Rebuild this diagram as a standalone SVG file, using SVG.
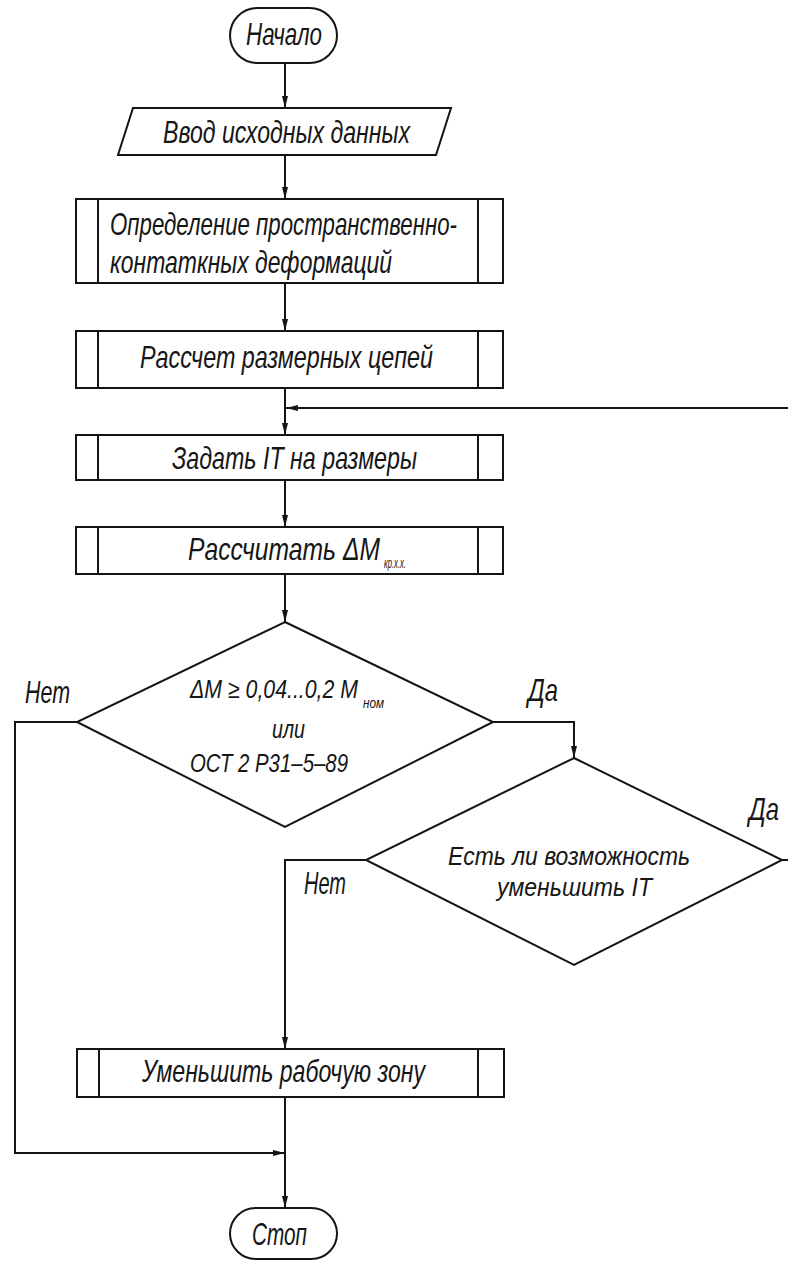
<svg xmlns="http://www.w3.org/2000/svg" width="788" height="1261" viewBox="0 0 788 1261">
<style>
.s{fill:#fff;stroke:#141414;stroke-width:2}
.l{fill:none;stroke:#141414;stroke-width:2}
.c{fill:none;stroke:#141414;stroke-width:2}
text{font-family:"Liberation Sans",Arial,sans-serif;font-style:italic;fill:#161616;font-weight:normal}
.b{font-size:32px}
.d{font-size:26px}
.sub{font-size:15px}
</style>
<defs>
<marker id="ah" viewBox="0 0 12 6" refX="12" refY="3" markerWidth="12" markerHeight="6" markerUnits="userSpaceOnUse" orient="auto">
<path d="M0,0 L12,3 L0,6 z" fill="#141414"/>
</marker>
</defs>
<rect width="788" height="1261" fill="#fff"/>
<g id="connectors">
<path class="c" d="M285,63 V108" marker-end="url(#ah)"/>
<path class="c" d="M285,155 V199" marker-end="url(#ah)"/>
<path class="c" d="M285,283 V331" marker-end="url(#ah)"/>
<path class="c" d="M285,388 V435" marker-end="url(#ah)"/>
<path class="c" d="M285,480 V527" marker-end="url(#ah)"/>
<path class="c" d="M285,574 V622" marker-end="url(#ah)"/>
<path class="c" d="M493,722 H574 V758" marker-end="url(#ah)"/>
<path class="c" d="M77,722 H15 V1153 H285" marker-end="url(#ah)"/>
<path class="c" d="M366,860 H285 V1049" marker-end="url(#ah)"/>
<path class="c" d="M782,860 H800 V408 H286" marker-end="url(#ah)"/>
<path class="c" d="M285,1097 V1208" marker-end="url(#ah)"/>
</g>
<g id="start">
<rect class="s" x="230" y="8" width="107" height="55" rx="27.5"/>
<text class="b" x="246" y="45" textLength="76" lengthAdjust="spacingAndGlyphs">Начало</text>
</g>
<g id="input">
<polygon class="s" points="133,108 451,108 436,155 118,155"/>
<text class="b" x="163" y="143" textLength="247" lengthAdjust="spacingAndGlyphs">Ввод исходных данных</text>
</g>
<g id="deform">
<rect class="s" x="76" y="199" width="427" height="84"/>
<line class="l" x1="98" y1="199" x2="98" y2="283"/>
<line class="l" x1="478" y1="199" x2="478" y2="283"/>
<text class="b" x="110" y="235" textLength="347" lengthAdjust="spacingAndGlyphs">Определение пространственно-</text>
<text class="b" x="110" y="273" textLength="282" lengthAdjust="spacingAndGlyphs">контаткных деформаций</text>
</g>
<g id="chains">
<rect class="s" x="76" y="331" width="427" height="57"/>
<line class="l" x1="98" y1="331" x2="98" y2="388"/>
<line class="l" x1="478" y1="331" x2="478" y2="388"/>
<text class="b" x="140" y="368" textLength="293" lengthAdjust="spacingAndGlyphs">Рассчет размерных цепей</text>
</g>
<g id="setIT">
<rect class="s" x="76" y="435" width="427" height="45"/>
<line class="l" x1="98" y1="435" x2="98" y2="480"/>
<line class="l" x1="478" y1="435" x2="478" y2="480"/>
<text class="b" x="172" y="469" textLength="245" lengthAdjust="spacingAndGlyphs">Задать IT на размеры</text>
</g>
<g id="calcM">
<rect class="s" x="76" y="527" width="427" height="47"/>
<line class="l" x1="98" y1="527" x2="98" y2="574"/>
<line class="l" x1="478" y1="527" x2="478" y2="574"/>
<text class="b" x="188" y="560" textLength="192" lengthAdjust="spacingAndGlyphs">Рассчитать ΔM</text>
<text class="sub" x="384" y="568" textLength="22" lengthAdjust="spacingAndGlyphs">кр.х.х.</text>
</g>
<g id="decision1">
<polygon class="s" points="285,622 493,722 285,827 77,722"/>
<text class="d" x="190" y="698" textLength="168" lengthAdjust="spacingAndGlyphs">ΔM ≥ 0,04...0,2 M</text>
<text class="sub" x="363" y="708" textLength="21" lengthAdjust="spacingAndGlyphs">ном</text>
<text class="d" x="272" y="738" textLength="33" lengthAdjust="spacingAndGlyphs">или</text>
<text class="d" x="190" y="772" textLength="158" lengthAdjust="spacingAndGlyphs">ОСТ 2 Р31–5–89</text>
</g>
<g id="decision2">
<polygon class="s" points="574,758 782,860 574,965 366,860"/>
<text class="d" x="448" y="865" textLength="242" lengthAdjust="spacingAndGlyphs">Есть ли возможность</text>
<text class="d" x="497" y="896" textLength="155" lengthAdjust="spacingAndGlyphs">уменьшить IT</text>
</g>
<g id="reduce">
<rect class="s" x="77" y="1049" width="427" height="48"/>
<line class="l" x1="99" y1="1049" x2="99" y2="1097"/>
<line class="l" x1="478" y1="1049" x2="478" y2="1097"/>
<text class="b" x="142" y="1082" textLength="283" lengthAdjust="spacingAndGlyphs">Уменьшить рабочую зону</text>
</g>
<g id="stop">
<rect class="s" x="230" y="1208" width="107" height="51" rx="25.5"/>
<text class="b" x="252" y="1245" textLength="55" lengthAdjust="spacingAndGlyphs">Стоп</text>
</g>
<g id="labels">
<text class="b" x="25" y="703" textLength="45" lengthAdjust="spacingAndGlyphs">Нет</text>
<text class="b" x="528" y="701" textLength="30" lengthAdjust="spacingAndGlyphs">Да</text>
<text class="b" x="749" y="820" textLength="30" lengthAdjust="spacingAndGlyphs">Да</text>
<text class="b" x="304" y="894" textLength="42" lengthAdjust="spacingAndGlyphs">Нет</text>
</g>
</svg>
